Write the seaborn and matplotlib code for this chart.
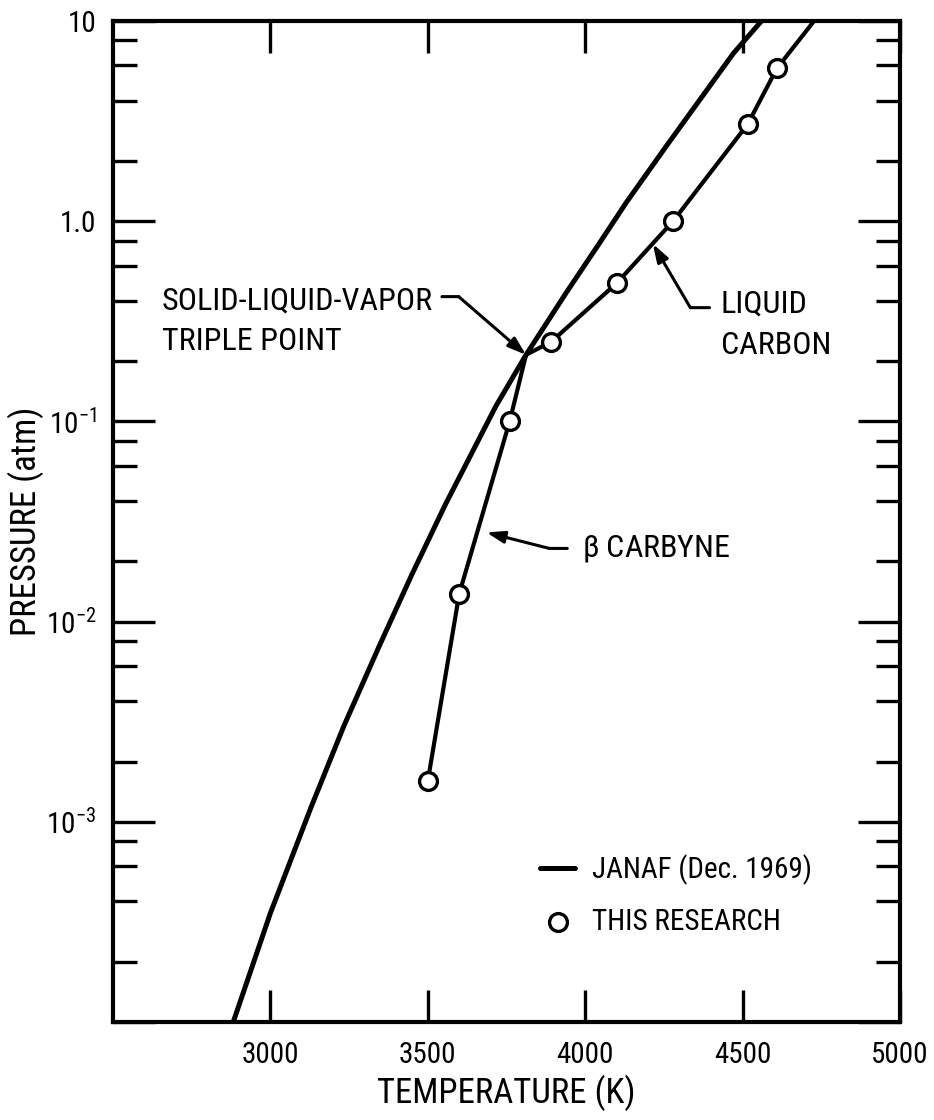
import numpy as np
import pandas as pd
import matplotlib
matplotlib.use("Agg")
import matplotlib.pyplot as plt
import seaborn as sns
from matplotlib import font_manager as fm
from matplotlib.ticker import LogLocator, NullLocator, NullFormatter

# ---- data ----
janaf_T = [2882, 3000, 3128, 3233, 3345, 3448, 3556, 3716, 3812, 3940, 4046, 4132, 4260, 4471, 4560]
janaf_P = [1.0e-4, 3.5e-4, 1.17e-3, 3.0e-3, 7.5e-3, 0.0170, 0.0385, 0.119, 0.215, 0.44, 0.78, 1.25, 2.4, 6.9, 10.0]

research_T = [3500, 3600, 3760, 3892, 4100, 4279, 4516, 4609]
research_P = [1.6e-3, 0.0138, 0.10, 0.25, 0.49, 1.0, 3.05, 5.8]

# curve drawn through this research (beta carbyne + liquid carbon, meeting at the triple point)
curve_T = [3500, 3600, 3760, 3812, 3892, 4100, 4279, 4516, 4609, 4727]
curve_P = [1.6e-3, 0.0138, 0.10, 0.215, 0.25, 0.49, 1.0, 3.05, 5.8, 10.0]

triple_T, triple_P = 3812, 0.215

xticks = [3000, 3500, 4000, 4500, 5000]
xtick_labels = ["3000", "3500", "4000", "4500", "5000"]
yticks = [1e-4, 1e-3, 1e-2, 1e-1, 1.0, 10.0]
ytick_labels = ["", r"$\mathregular{10^{-3}}$", r"$\mathregular{10^{-2}}$",
                r"$\mathregular{10^{-1}}$", "1.0", "10"]

# ---- pick a condensed sans font if one is installed ----
ttf = fm.fontManager.ttflist
names = {f.name for f in ttf}
scale = 1.0
if "Roboto Condensed" in names:
    main_font = "Roboto Condensed"; scale = 1.0
elif "Liberation Sans Narrow" in names:
    main_font = "Liberation Sans Narrow"; scale = 1.05
elif "Liberation Sans" in names:
    main_font = "Liberation Sans"; scale = 0.9
else:
    main_font = "DejaVu Sans"; scale = 0.82

FS_TICK = 21 * scale
FS_ANN = 23 * scale
FS_LAB = 25 * scale
FS_LEG = 21 * scale

sns.set_theme(style="white")
plt.rcParams["font.family"] = [main_font, "DejaVu Sans"]
plt.rcParams["mathtext.fontset"] = "custom"
plt.rcParams["mathtext.rm"] = main_font
plt.rcParams["axes.unicode_minus"] = False
for k in ["text.color", "axes.labelcolor", "xtick.color", "ytick.color"]:
    plt.rcParams[k] = "black"

fig = plt.figure(figsize=(9.34, 11.2), dpi=100)
ax = fig.add_axes([113/934, 1-1022/1120, (900-113)/934, (1022-21)/1120])

df_j = pd.DataFrame({"T": janaf_T, "P": janaf_P})
df_c = pd.DataFrame({"T": curve_T, "P": curve_P})
df_r = pd.DataFrame({"T": research_T, "P": research_P})

sns.lineplot(data=df_j, x="T", y="P", sort=False, color="black", lw=3.6, ax=ax,
             label="JANAF (Dec. 1969)")
sns.lineplot(data=df_c, x="T", y="P", sort=False, color="black", lw=3.0, ax=ax)
sns.scatterplot(data=df_r, x="T", y="P", marker="o", s=165, facecolor="white",
                edgecolor="black", linewidth=2.4, ax=ax, zorder=5, label="THIS RESEARCH")

ax.set_yscale("log")
ax.set_xlim(2500, 5000)
ax.set_ylim(1e-4, 10)

ax.set_xticks(xticks)
ax.set_xticklabels(xtick_labels, fontsize=FS_TICK)
ax.set_yticks(yticks)
ax.set_yticklabels(ytick_labels, fontsize=FS_TICK)
ax.yaxis.set_minor_locator(LogLocator(base=10, subs=[2, 4, 6, 8], numticks=20))
ax.yaxis.set_minor_formatter(NullFormatter())
ax.xaxis.set_minor_locator(NullLocator())

ax.tick_params(axis="both", which="both", direction="in", top=True, right=True,
               bottom=True, left=True, width=2.4, color="black")
ax.tick_params(axis="y", which="major", length=30, pad=12)
ax.tick_params(axis="y", which="minor", length=17)
ax.tick_params(axis="x", which="major", length=23, pad=14)

for sp in ax.spines.values():
    sp.set_visible(True)
    sp.set_color("black")
    sp.set_linewidth(3.0)

ax.set_xlabel("TEMPERATURE (K)", fontsize=FS_LAB, labelpad=4)
ax.set_ylabel("PRESSURE (atm)", fontsize=FS_LAB)
ax.yaxis.set_label_coords(-0.088, 0.5)

# annotations
arrow_kw = dict(arrowstyle="-|>,head_length=0.9,head_width=0.3", color="black", lw=2.2,
                shrinkA=0, shrinkB=0)
line_kw = dict(arrowstyle="-", color="black", lw=2.2, shrinkA=0, shrinkB=0)

ax.text(2655, 0.40, "SOLID-LIQUID-VAPOR", fontsize=FS_ANN, ha="left", va="center")
ax.text(2655, 0.25, "TRIPLE POINT", fontsize=FS_ANN, ha="left", va="center")
ax.annotate("", xy=(3598, 0.42), xytext=(3545, 0.42), arrowprops=line_kw)
ax.annotate("", xy=(triple_T, triple_P), xytext=(3598, 0.42), arrowprops=arrow_kw)

ax.text(4430, 0.385, "LIQUID", fontsize=FS_ANN, ha="left", va="center")
ax.text(4430, 0.24, "CARBON", fontsize=FS_ANN, ha="left", va="center")
ax.annotate("", xy=(4334, 0.37), xytext=(4395, 0.37), arrowprops=line_kw)
ax.annotate("", xy=(4215, 0.77), xytext=(4334, 0.37), arrowprops=arrow_kw)

ax.text(3991, 0.0232, r"$\mathregular{\beta}$ CARBYNE", fontsize=FS_ANN, ha="left", va="center")
ax.annotate("", xy=(3886, 0.0232), xytext=(3943, 0.0232), arrowprops=line_kw)
ax.annotate("", xy=(3686, 0.0279), xytext=(3886, 0.0232), arrowprops=arrow_kw)

leg = ax.legend(loc="upper left", bbox_to_anchor=((540-113)/787, 1-(854-21)/1001),
                frameon=False, fontsize=FS_LEG, handlelength=1.2, handletextpad=0.6,
                labelspacing=0.8, borderaxespad=0, borderpad=0)

fig.savefig("out.png", dpi=100, facecolor="white")
